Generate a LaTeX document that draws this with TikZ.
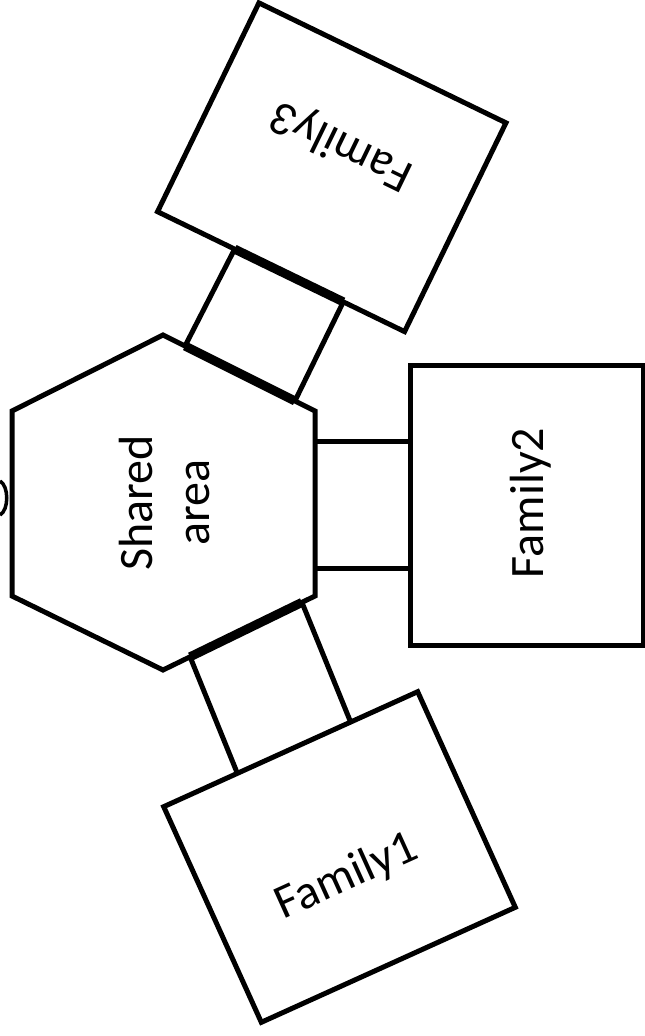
\documentclass[tikz,border=0pt]{standalone}
\usepackage{fontspec}
\setmainfont{Carlito}
\usetikzlibrary{calc}
\begin{document}
\begin{tikzpicture}[x=1pt,y=-1pt,line join=miter,
  edge/.style={line width=5pt},
  famlabel/.style={font=\fontsize{48}{57}\selectfont, inner sep=0pt},
  fambox/.style={draw, line width=5pt, rectangle, inner sep=0pt, outer sep=0pt},
  seam/.style={line width=9pt},
  link/.style={line width=5pt}]
\useasboundingbox (0,0) rectangle (645,1036);
\fill[white] (0,0) rectangle (645,1036);

% shared area hexagon
\coordinate (hT) at (163,335);
\coordinate (hUR) at (315,411);
\coordinate (hLR) at (315,596);
\coordinate (hB) at (163,670);
\coordinate (hLL) at (12,596);
\coordinate (hUL) at (12,411);
\draw[edge] (hT) -- (hUR) -- (hLR) -- (hB) -- (hLL) -- (hUL) -- cycle;
\node[famlabel, rotate=90, align=center] (shared) at (165,503) {Shared\\area};

% family boxes
\node[fambox, minimum width=233pt, minimum height=280pt] (f2) at (526.5,505) {};
\node[fambox, rotate=24.36, minimum width=278.8pt, minimum height=236.7pt] (f1) at (339.5,857) {};
\node[fambox, rotate=-25.9, minimum width=274.6pt, minimum height=232.1pt] (f3) at (331.75,167.25) {};

\node[famlabel, rotate=90] (f2label) at (531,503) {Family2};
\node[famlabel, rotate=24.36] (f1label) at (347,877) {Family1};
\node[famlabel, rotate=154.1] (f3label) at (342,145) {Family3};

% connector to Family1
\coordinate (c1a) at ($(hB)!0.178!(hLR)$);
\coordinate (c1b) at ($(hB)!0.914!(hLR)$);
\coordinate (c1c) at ($(f1.north west)!0.736!(f1.north east)$);
\coordinate (c1d) at ($(f1.north west)!0.29!(f1.north east)$);
\draw[seam] (c1a) -- (c1b);
\draw[link] (c1a) -- (c1d) (c1b) -- (c1c);

% connector to Family2
\coordinate (c2a) at ($(hUR)!0.167!(hLR)$);
\coordinate (c2b) at ($(hUR)!0.849!(hLR)$);
\draw[link] (c2a) -- (f2.west |- c2a) (c2b) -- (f2.west |- c2b);

% connector to Family3
\coordinate (c3a) at ($(hT)!0.145!(hUR)$);
\coordinate (c3b) at ($(hT)!0.868!(hUR)$);
\coordinate (c3c) at ($(f3.south west)!0.752!(f3.south east)$);
\coordinate (c3d) at ($(f3.south west)!0.312!(f3.south east)$);
\draw[seam] (c3a) -- (c3b);
\draw[seam] (c3d) -- (c3c);
\draw[link] (c3a) -- (c3d) (c3b) -- (c3c);

% cut-off mark at the left edge
\draw[line width=3.5pt] (0,481) .. controls (9,486) and (9,510) .. (0,515);
\end{tikzpicture}
\end{document}
